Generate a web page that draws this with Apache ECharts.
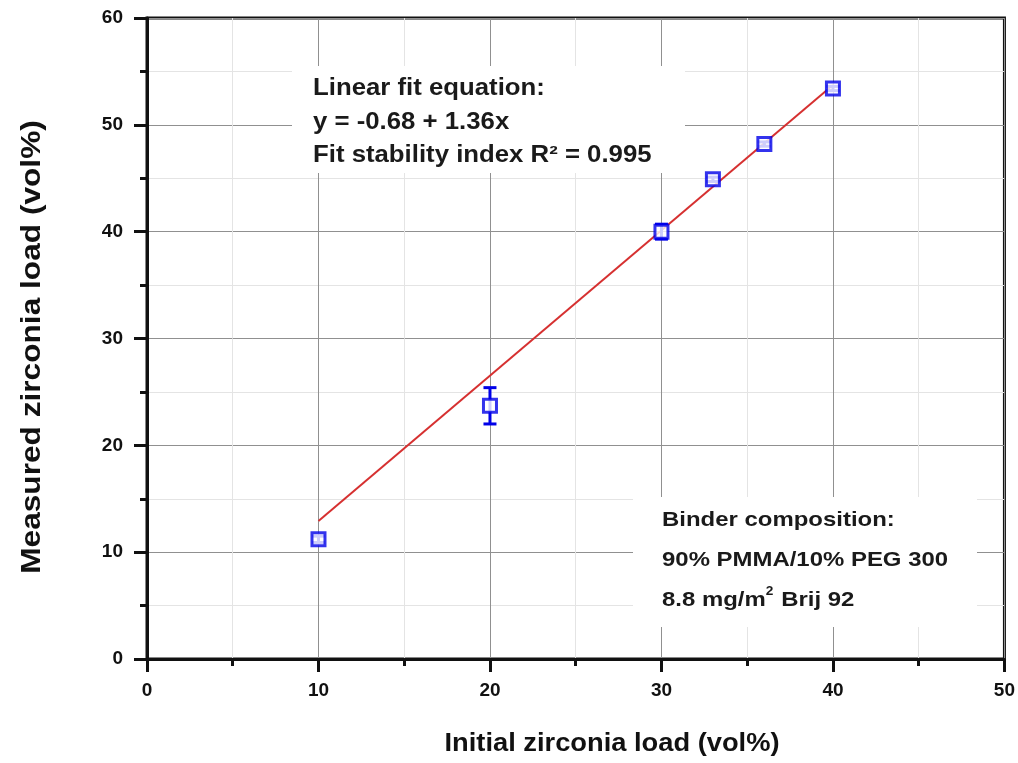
<!DOCTYPE html>
<html>
<head>
<meta charset="utf-8">
<script src="https://cdn.jsdelivr.net/npm/echarts@6/dist/echarts.min.js"></script>
<style>
    html, body { margin: 0; padding: 0; background: #fff; }
    #chart { width: 1018px; height: 763px; }
</style>
</head>
<body>
<div id="chart"></div>
<script>
// measured points (x = initial load, y = measured load, err = +/-)
const initialLoad = [10, 20, 30, 33, 36, 40];
const measuredLoad = [11.2, 23.7, 40.0, 44.9, 48.2, 53.4];
const errorHalf = [0.3, 1.7, 0.7, 0.2, 0.2, 0.2];
// linear fit y = -0.68 + 1.36x, end points
const fitX = [10, 40];
const fitY = [12.92, 53.72];

const xTicks = [0, 10, 20, 30, 40, 50];
const yTicks = [0, 10, 20, 30, 40, 50, 60];

const blue = '#0000e8';
const font = '"Liberation Sans", Arial, sans-serif';
const pts = initialLoad.map((x, i) => [x, measuredLoad[i]]);
const errData = initialLoad.map((x, i) => [x, measuredLoad[i] - errorHalf[i], measuredLoad[i] + errorHalf[i]]);
const fitData = fitX.map((x, i) => [x, fitY[i]]);

const chart = echarts.init(document.getElementById('chart'));

const option = {
    backgroundColor: '#fff',
    animation: false,
    grid: {
        left: 147,
        right: 13,
        top: 18,
        bottom: 104,
        show: true,
        borderColor: '#111',
        borderWidth: 3,
    },
    xAxis: {
        type: 'value',
        min: xTicks[0],
        max: xTicks[xTicks.length - 1],
        interval: 10,
        axisLine: { lineStyle: { color: '#111', width: 3 } },
        axisTick: { show: true, length: 13, lineStyle: { color: '#111', width: 3 } },
        minorTick: { show: true, splitNumber: 2, length: 7, lineStyle: { color: '#111', width: 3 } },
        splitLine: { show: true, lineStyle: { color: '#909090', width: 1 } },
        minorSplitLine: { show: true, lineStyle: { color: '#e4e4e4', width: 1 } },
        axisLabel: {
            margin: 22,
            fontFamily: font,
            fontWeight: 'bold',
            fontSize: 19,
            color: '#111',
        },
    },
    yAxis: {
        type: 'value',
        min: yTicks[0],
        max: yTicks[yTicks.length - 1],
        interval: 10,
        axisLine: { lineStyle: { color: '#111', width: 3 } },
        axisTick: { show: true, length: 13, lineStyle: { color: '#111', width: 3 } },
        minorTick: { show: true, splitNumber: 2, length: 7, lineStyle: { color: '#111', width: 3 } },
        splitLine: { show: true, lineStyle: { color: '#909090', width: 1 } },
        minorSplitLine: { show: true, lineStyle: { color: '#e4e4e4', width: 1 } },
        axisLabel: {
            margin: 24,
            fontFamily: font,
            fontWeight: 'bold',
            fontSize: 19,
            color: '#111',
        },
    },
    series: [
        {
            type: 'line',
            data: fitData,
            showSymbol: false,
            lineStyle: { color: '#d63030', width: 2 },
            z: 3,
        },
        {
            type: 'custom',
            data: errData,
            z: 4,
            renderItem: function (params, api) {
                const x = api.value(0);
                const lo = api.coord([x, api.value(1)]);
                const hi = api.coord([x, api.value(2)]);
                const cap = 6.5;
                const st = { stroke: blue, lineWidth: 3 };
                return {
                    type: 'group',
                    children: [
                        { type: 'line', shape: { x1: lo[0], y1: lo[1], x2: hi[0], y2: hi[1] }, style: st },
                        { type: 'line', shape: { x1: lo[0] - cap, y1: lo[1], x2: lo[0] + cap, y2: lo[1] }, style: st },
                        { type: 'line', shape: { x1: hi[0] - cap, y1: hi[1], x2: hi[0] + cap, y2: hi[1] }, style: st },
                    ],
                };
            },
        },
        {
            type: 'scatter',
            data: pts,
            symbol: 'rect',
            symbolSize: 13,
            itemStyle: { color: '#fff', borderColor: blue, borderWidth: 3 },
            z: 5,
        },
    ],
    graphic: [
        // axis titles
        {
            type: 'text', x: 32, y: 347, rotation: Math.PI / 2, scaleX: 1.13, z: 10,
            style: {
                text: 'Measured zirconia load (vol%)',
                font: 'bold 28px ' + font,
                fill: '#111',
                align: 'center',
                verticalAlign: 'middle',
            },
        },
        {
            type: 'text', x: 612, y: 744, scaleX: 1.07, z: 10,
            style: {
                text: 'Initial zirconia load (vol%)',
                font: 'bold 25.5px ' + font,
                fill: '#111',
                align: 'center',
                verticalAlign: 'middle',
            },
        },
        // annotation boxes
        { type: 'rect', shape: { x: 292, y: 66, width: 393, height: 107 }, style: { fill: '#fff' }, z: 1 },
        {
            type: 'text', x: 313, y: 72, scaleX: 1.12, z: 10,
            style: {
                text: 'Linear fit equation:\ny = -0.68 + 1.36x\nFit stability index R² = 0.995',
                font: 'bold 23px ' + font,
                fill: '#1a1a1a',
                lineHeight: 33.5,
                verticalAlign: 'top',
            },
        },
        { type: 'rect', shape: { x: 633, y: 497, width: 344, height: 130 }, style: { fill: '#fff' }, z: 1 },
        {
            type: 'text', x: 662, y: 500, scaleX: 1.14, z: 10,
            style: {
                text: '{t|Binder composition:}\n{t|90% PMMA/10% PEG 300}\n{t|8.8 mg/m}{s|2}{t| Brij 92}',
                fill: '#1a1a1a',
                verticalAlign: 'top',
                rich: {
                    t: { font: 'bold 21px ' + font, fill: '#1a1a1a', lineHeight: 40 },
                    s: { font: 'bold 12px ' + font, fill: '#1a1a1a', lineHeight: 40, padding: [0, 1, 16, 0] },
                },
            },
        },
    ],
};

chart.setOption(option);
</script>
</body>
</html>
